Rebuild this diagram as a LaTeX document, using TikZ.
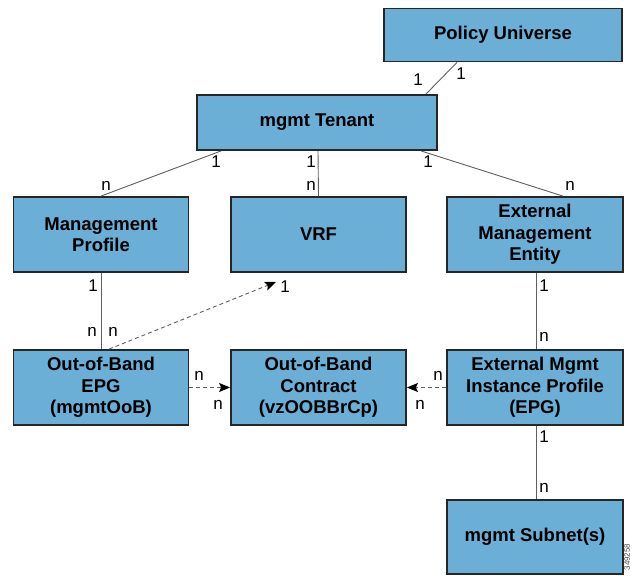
\documentclass[tikz,border=0pt]{standalone}
\usepackage{fontspec}
\setmainfont{Liberation Sans}
\usetikzlibrary{arrows.meta}
\definecolor{boxblue}{RGB}{107,174,214}
\definecolor{linegray}{RGB}{95,95,95}
\begin{document}
\begin{tikzpicture}[x=1pt,y=-1pt,
  mo/.style={draw=black!85,line width=1.8pt,fill=boxblue,align=center,
    minimum width=175pt,minimum height=75pt,inner sep=0pt,
    font=\bfseries\fontsize{18.5}{21.5}\selectfont},
  conn/.style={draw=linegray,line width=0.9pt},
  dep/.style={conn,dash pattern=on 4pt off 3pt,
    -{Stealth[length=11pt,width=9pt,inset=2pt,color=black,sep=0pt]}},
  card/.style={inner sep=0pt,font=\fontsize{17}{17}\selectfont}]
\useasboundingbox (0,0) rectangle (633,576);

% objects
\node[mo,minimum width=238pt,minimum height=53pt] (uni) at (503,35) {Policy Universe};
\node[mo,minimum width=240pt,minimum height=55pt] (tenant) at (317,122.5) {mgmt Tenant};
\node[mo] (mprof) at (101,234.5) {Management\\Profile};
\node[mo] (vrf) at (318.5,234.5) {VRF};
\node[mo,minimum width=176pt] (extent) at (535,234.5) {External\\Management\\Entity};
\node[mo] (oobepg) at (101,387.5) {Out-of-Band\\EPG\\(mgmtOoB)};
\node[mo] (contract) at (318.5,387.5) {Out-of-Band\\Contract\\(vzOOBBrCp)};
\node[mo,minimum width=176pt] (extinst) at (535,387.5) {External Mgmt\\Instance Profile\\(EPG)};
\node[mo,minimum width=176pt,minimum height=74pt] (subnet) at (535,537) {mgmt Subnet(s)};

% containment
\draw[conn] ([xshift=-46pt]uni.south) -- ([xshift=-12pt]tenant.north east);
\draw[conn] ([xshift=25pt]tenant.south west) -- (mprof.north);
\draw[conn] ([xshift=1pt]tenant.south) -- (vrf.north);
\draw[conn] ([xshift=-17pt]tenant.south east) -- ([xshift=28pt]extent.north);
\draw[conn] (mprof.south) -- (oobepg.north);
\draw[conn] ([xshift=1pt]extent.south) -- ([xshift=1pt]extinst.north);
\draw[conn] ([xshift=1pt]extinst.south) -- ([xshift=1pt]subnet.north);

% relations
\coordinate (vrftip) at (276,282);
\draw[dep] ([xshift=8pt]oobepg.north) -- (vrftip);
\draw[dep] (oobepg.east) -- (contract.west);
\draw[dep] (extinst.west) -- (contract.east);

% cardinalities
\foreach \x/\y/\t [count=\i] in {418/80/1,461/74/1,216/162/1,106/186/n,
    311/162/1,311/186/n,428/162/1,570/186/n,93/286/1,92/332/n,113/332/n,
    285/287/1,544/286/1,544/337/n,199/376/n,218/405/n,438/376/n,420/405/n,
    544/437/1,544/488/n}
  \node[card] (c\i) at (\x,\y) {\t};

\node[rotate=90,font=\fontsize{8}{8}\selectfont,text=black!70] (figid) at (627,557) {349258};
\end{tikzpicture}
\end{document}
